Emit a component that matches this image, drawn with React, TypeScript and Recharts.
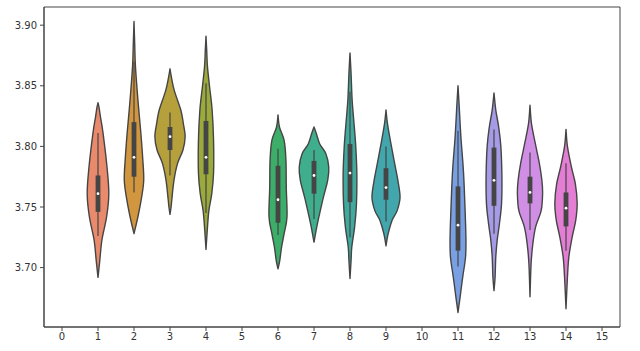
import React from 'react';
import { ComposedChart, Bar, XAxis, YAxis, ReferenceArea } from 'recharts';

const categories = ['0', '1', '2', '3', '4', '5', '6', '7', '8', '9', '10', '11', '12', '13', '14', '15'];
const violinCats = ['1', '2', '3', '4', '6', '7', '8', '9', '11', '12', '13', '14'];
const yTicks = [3.7, 3.75, 3.8, 3.85, 3.9];
const yDomain = [3.651, 3.915];

// density outline: values (top to bottom) and half-widths (fraction of band)
const profileValues: number[][] = [
  [3.836, 3.832, 3.824, 3.811, 3.783, 3.761, 3.742, 3.723, 3.706, 3.692],
  [3.903, 3.884, 3.866, 3.838, 3.811, 3.791, 3.772, 3.756, 3.742, 3.733, 3.728],
  [3.864, 3.857, 3.846, 3.83, 3.819, 3.808, 3.797, 3.786, 3.772, 3.756, 3.75, 3.744],
  [3.891, 3.879, 3.866, 3.849, 3.83, 3.805, 3.778, 3.761, 3.747, 3.733, 3.715],
  [3.826, 3.816, 3.805, 3.789, 3.766, 3.742, 3.728, 3.717, 3.706, 3.699],
  [3.816, 3.811, 3.802, 3.794, 3.783, 3.772, 3.758, 3.745, 3.734, 3.721],
  [3.877, 3.86, 3.838, 3.816, 3.8, 3.778, 3.753, 3.734, 3.717, 3.706, 3.691],
  [3.83, 3.819, 3.805, 3.789, 3.772, 3.758, 3.747, 3.739, 3.728, 3.718],
  [3.85, 3.835, 3.808, 3.78, 3.753, 3.725, 3.709, 3.692, 3.676, 3.663],
  [3.844, 3.83, 3.816, 3.8, 3.775, 3.753, 3.736, 3.723, 3.709, 3.692, 3.681],
  [3.834, 3.819, 3.802, 3.786, 3.772, 3.761, 3.747, 3.734, 3.72, 3.703, 3.676],
  [3.814, 3.8, 3.783, 3.769, 3.753, 3.739, 3.725, 3.709, 3.692, 3.666],
];
const profileWidths: number[][] = [
  [0, 0.03, 0.07, 0.14, 0.25, 0.3, 0.24, 0.11, 0.05, 0],
  [0, 0.02, 0.04, 0.11, 0.19, 0.24, 0.27, 0.2, 0.11, 0.04, 0],
  [0, 0.04, 0.12, 0.3, 0.37, 0.42, 0.36, 0.21, 0.11, 0.05, 0.03, 0],
  [0, 0.02, 0.04, 0.1, 0.17, 0.21, 0.21, 0.16, 0.08, 0.04, 0],
  [0, 0.04, 0.17, 0.22, 0.23, 0.25, 0.17, 0.1, 0.05, 0],
  [0, 0.06, 0.16, 0.33, 0.41, 0.38, 0.26, 0.16, 0.08, 0],
  [0, 0.03, 0.06, 0.12, 0.16, 0.19, 0.18, 0.13, 0.05, 0.03, 0],
  [0, 0.04, 0.12, 0.22, 0.33, 0.39, 0.31, 0.17, 0.06, 0],
  [0, 0.03, 0.08, 0.15, 0.19, 0.22, 0.21, 0.13, 0.06, 0],
  [0, 0.05, 0.13, 0.19, 0.22, 0.21, 0.15, 0.09, 0.05, 0.03, 0],
  [0, 0.04, 0.15, 0.26, 0.33, 0.35, 0.31, 0.16, 0.08, 0.03, 0],
  [0, 0.04, 0.15, 0.26, 0.31, 0.27, 0.17, 0.08, 0.04, 0],
];
const q1 = [3.746, 3.775, 3.797, 3.777, 3.737, 3.761, 3.754, 3.756, 3.714, 3.751, 3.753, 3.734];
const medians = [3.761, 3.791, 3.808, 3.791, 3.756, 3.776, 3.778, 3.766, 3.735, 3.772, 3.762, 3.749];
const q3 = [3.776, 3.82, 3.816, 3.821, 3.784, 3.788, 3.802, 3.782, 3.767, 3.799, 3.775, 3.762];
const whiskerLo = [3.726, 3.762, 3.776, 3.745, 3.727, 3.74, 3.725, 3.738, 3.701, 3.728, 3.731, 3.714];
const whiskerHi = [3.811, 3.87, 3.828, 3.852, 3.798, 3.797, 3.845, 3.8, 3.813, 3.814, 3.795, 3.786];
const colors = ['#e98a6d', '#d2963f', '#b5a03c', '#9ca93b', '#3dae6a', '#3fae8c', '#40aa9e', '#42a6ad', '#7aa0e4', '#a59be6', '#d08ee5', '#e47ed4'];

const tableData = categories.map((cat) => {
  const i = violinCats.indexOf(cat);
  if (i < 0) return { cat, range: null as null | number[], idx: -1 };
  const vals = profileValues[i];
  return { cat, range: [Math.min(...vals), Math.max(...vals)], idx: i };
});

type P = { x: number; y: number };
const spline = (pts: P[]) => {
  let d = '';
  for (let i = 0; i < pts.length - 1; i++) {
    const p0 = pts[i - 1] || pts[i];
    const p1 = pts[i];
    const p2 = pts[i + 1];
    const p3 = pts[i + 2] || pts[i + 1];
    const c1x = p1.x + (p2.x - p0.x) / 6;
    const c1y = p1.y + (p2.y - p0.y) / 6;
    const c2x = p2.x - (p3.x - p1.x) / 6;
    const c2y = p2.y - (p3.y - p1.y) / 6;
    d += ` C${c1x},${c1y} ${c2x},${c2y} ${p2.x},${p2.y}`;
  }
  return d;
};

const EDGE = '#454545';

const ViolinShape = (props: any) => {
  const { x, y, width, height, payload } = props;
  if (!payload || !payload.range) return null;
  const i = payload.idx;
  const [lo, hi] = payload.range;
  const top = Math.min(y, y + height);
  const h = Math.abs(height);
  const py = (v: number) => top + ((hi - v) / (hi - lo)) * h;
  const cx = x + width / 2;
  const vals = profileValues[i];
  const ws = profileWidths[i];
  const right = vals.map((v, k) => ({ x: cx + ws[k] * width, y: py(v) }));
  const left = vals.map((v, k) => ({ x: cx - ws[k] * width, y: py(v) })).reverse();
  const d = `M${right[0].x},${right[0].y}` + spline(right) + ` L${left[0].x},${left[0].y}` + spline(left) + ' Z';
  return (
    <g>
      <path d={d} fill={colors[i]} stroke={EDGE} strokeWidth={1.4} strokeLinejoin="round" />
      <line x1={cx} x2={cx} y1={py(whiskerHi[i])} y2={py(whiskerLo[i])} stroke={EDGE} strokeWidth={1.2} />
      <rect x={cx - 2.4} width={4.8} y={py(q3[i])} height={py(q1[i]) - py(q3[i])} fill={EDGE} />
      <circle cx={cx} cy={py(medians[i])} r={1.4} fill="#ffffff" />
    </g>
  );
};

const tickStyle = { fontSize: 10, fill: '#333', fontFamily: 'DejaVu Sans, sans-serif' };

export default function App() {
  return (
    <div style={{ position: 'absolute', left: 0, top: 0, width: 640, height: 351, background: '#fff' }}>
      <ComposedChart
        width={640}
        height={351}
        data={tableData}
        margin={{ top: 7, right: 20, bottom: 0, left: 0 }}
        barCategoryGap={0}
      >
        <XAxis
          dataKey="cat"
          type="category"
          height={24}
          tick={tickStyle}
          tickSize={4}
          tickMargin={2}
          axisLine={{ stroke: '#444' }}
          tickLine={{ stroke: '#444' }}
          interval={0}
        />
        <YAxis
          type="number"
          domain={yDomain}
          allowDataOverflow
          ticks={yTicks}
          tickFormatter={(v: number) => v.toFixed(2)}
          width={44}
          tick={tickStyle}
          tickSize={4}
          tickMargin={3}
          axisLine={{ stroke: '#444' }}
          tickLine={{ stroke: '#444' }}
        />
        <ReferenceArea y1={yDomain[0]} y2={yDomain[1]} fill="none" fillOpacity={0} stroke="#444" strokeWidth={1} ifOverflow="extendDomain" />
        <Bar dataKey="range" shape={<ViolinShape />} isAnimationActive={false} />
      </ComposedChart>
    </div>
  );
}
